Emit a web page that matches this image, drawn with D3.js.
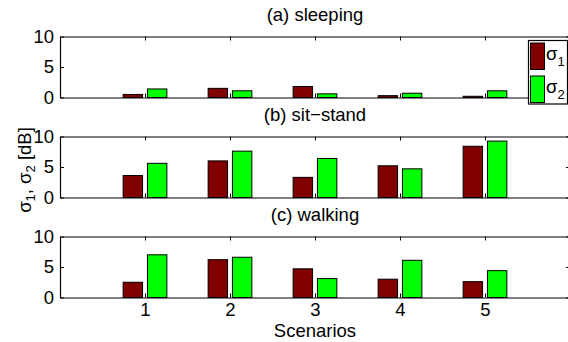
<!DOCTYPE html>
<html>
<head>
<meta charset="utf-8">
<script src="https://cdn.jsdelivr.net/npm/d3@7"></script>
<style>
  html, body { margin: 0; padding: 0; background: #fff; }
  svg { display: block; font-family: "Liberation Sans", Arial, Helvetica, sans-serif; }
</style>
</head>
<body>
<svg id="chart" width="568" height="342"></svg>
<script>
// Scenario numbers on the x axis
const scenarios = [1, 2, 3, 4, 5];
const yTicks = [0, 5, 10];
const panelTitles = ["(a) sleeping", "(b) sit\u2212stand", "(c) walking"];

// sigma_1 and sigma_2 (dB) per activity and scenario
const sleepingSigma1 = [0.5, 1.5, 1.8, 0.3, 0.2];
const sleepingSigma2 = [1.4, 1.1, 0.6, 0.7, 1.1];
const sitStandSigma1 = [3.6, 6.0, 3.3, 5.2, 8.4];
const sitStandSigma2 = [5.6, 7.6, 6.4, 4.7, 9.25];
const walkingSigma1 = [2.5, 6.2, 4.7, 3.0, 2.6];
const walkingSigma2 = [7.0, 6.6, 3.1, 6.1, 4.4];

const panels = [
  { title: panelTitles[0], s1: sleepingSigma1, s2: sleepingSigma2 },
  { title: panelTitles[1], s1: sitStandSigma1, s2: sitStandSigma2 },
  { title: panelTitles[2], s1: walkingSigma1, s2: walkingSigma2 }
];

const colors = ["#800000", "#00ff00"];
const fontSize = 18.5;
const subSize = 13;
const fontFamily = "Liberation Sans, Arial, Helvetica, sans-serif";

const svg = d3.select("#chart");

const left = 60, right = 570;
const panelTops = [36.5, 136.5, 236.5];
const panelH = 61;

const x = d3.scaleLinear().domain([0, 6]).range([left, right]);
const barW = 0.2286;      // grouped bar width in x units
const barOff = 0.1429;    // centre offset of each series from the tick

panels.forEach((p, i) => {
  const top = panelTops[i];
  const y = d3.scaleLinear().domain([0, 10]).range([top + panelH, top]);
  const g = svg.append("g");

  // bars
  [p.s1, p.s2].forEach((vals, k) => {
    g.selectAll(null)
      .data(vals)
      .enter()
      .append("rect")
      .attr("x", (d, j) => x(scenarios[j] + (k === 0 ? -barOff : barOff) - barW / 2))
      .attr("width", x(barW) - x(0))
      .attr("y", d => y(d))
      .attr("height", d => y(0) - y(d))
      .attr("fill", colors[k])
      .attr("stroke", "#000")
      .attr("stroke-width", 1);
  });

  // left y axis with inward ticks
  const yAxis = d3.axisLeft(y).tickValues(yTicks).tickSizeInner(-4).tickSizeOuter(0).tickPadding(6);
  const ya = g.append("g").attr("transform", `translate(${left},0)`).call(yAxis);
  ya.selectAll("text").attr("font-size", fontSize).attr("fill", "#000")
    .attr("font-family", fontFamily);

  // right y axis ticks
  const yAxisR = d3.axisRight(y).tickValues(yTicks).tickSizeInner(-4).tickSizeOuter(0).tickFormat("");
  g.append("g").attr("transform", `translate(${right},0)`).call(yAxisR);

  // bottom x axis with inward ticks
  const xAxisB = d3.axisBottom(x).tickValues(scenarios).tickSizeInner(-4).tickSizeOuter(0)
    .tickPadding(5).tickFormat(i === 2 ? d3.format("d") : "");
  const xb = g.append("g").attr("transform", `translate(0,${top + panelH})`).call(xAxisB);
  xb.selectAll("text").attr("font-size", fontSize).attr("fill", "#000")
    .attr("font-family", fontFamily);

  // top x axis ticks
  const xAxisT = d3.axisTop(x).tickValues(scenarios).tickSizeInner(-4).tickSizeOuter(0).tickFormat("");
  g.append("g").attr("transform", `translate(0,${top})`).call(xAxisT);

  g.selectAll(".domain").attr("stroke", "#000").attr("stroke-width", 1.2);
  g.selectAll(".tick line").attr("stroke", "#000");

  // panel title
  g.append("text")
    .attr("x", (left + right) / 2)
    .attr("y", top - 16)
    .attr("text-anchor", "middle")
    .attr("font-size", fontSize)
    .text(p.title);
});

// x axis label
svg.append("text")
  .attr("x", (left + right) / 2)
  .attr("y", 337)
  .attr("text-anchor", "middle")
  .attr("font-size", fontSize)
  .text("Scenarios");

// y axis label with subscripts
const yl = svg.append("text")
  .attr("transform", "translate(31,170) rotate(-90)")
  .attr("text-anchor", "middle")
  .attr("font-size", fontSize);
yl.append("tspan").text("\u03c3");
yl.append("tspan").attr("font-size", subSize).attr("dy", 4).text("1");
yl.append("tspan").attr("dy", -4).text(", \u03c3");
yl.append("tspan").attr("font-size", subSize).attr("dy", 4).text("2");
yl.append("tspan").attr("dy", -4).text(" [dB]");

// legend
const legend = svg.append("g");
legend.append("rect")
  .attr("x", 528.5).attr("y", 40.5).attr("width", 39).attr("height", 63.5)
  .attr("fill", "#fff").attr("stroke", "#000").attr("stroke-width", 1.2);
const legendItems = ["1", "2"];
legendItems.forEach((sub, k) => {
  const y0 = 43 + k * 33;
  legend.append("rect")
    .attr("x", 530.5).attr("y", y0).attr("width", 14).attr("height", 26.5)
    .attr("fill", colors[k]).attr("stroke", "#000").attr("stroke-width", 1);
  const t = legend.append("text")
    .attr("x", 546).attr("y", y0 + 17)
    .attr("font-size", fontSize);
  t.append("tspan").text("\u03c3");
  t.append("tspan").attr("font-size", subSize).attr("dy", 6).text(sub);
});
</script>
</body>
</html>
